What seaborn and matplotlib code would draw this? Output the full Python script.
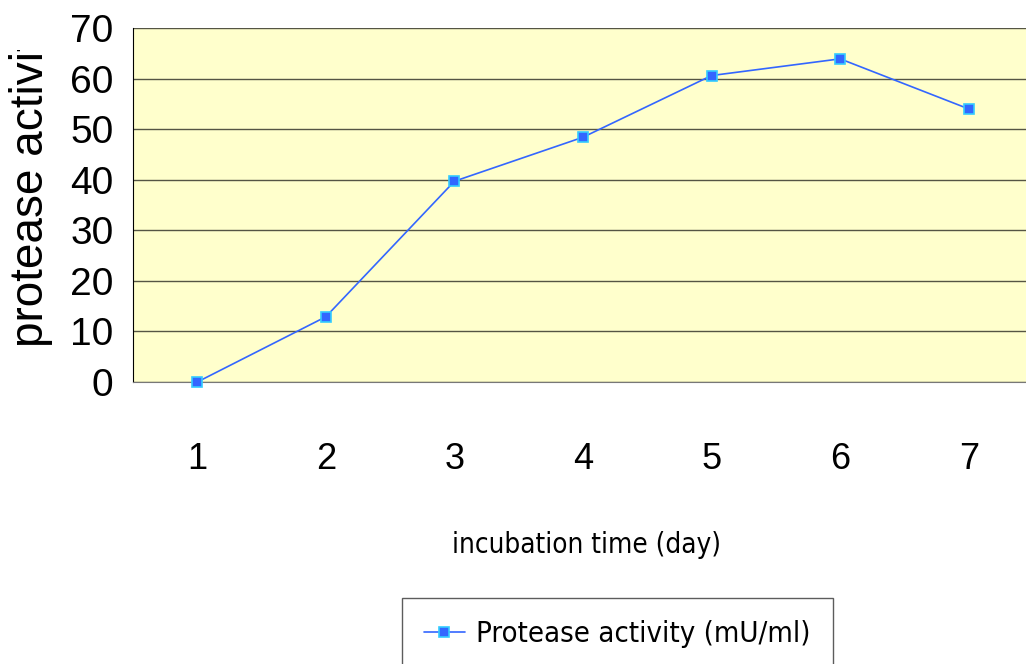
import pandas as pd
import matplotlib.pyplot as plt
import seaborn as sns
import numpy as np
from matplotlib.transforms import Bbox

# data
days = [1, 2, 3, 4, 5, 6, 7]
activity = [0, 12.9, 39.7, 48.4, 60.6, 63.9, 54.0]
y_ticks = [0, 10, 20, 30, 40, 50, 60, 70]

df = pd.DataFrame({'day': days, 'activity': activity})

sns.set_style('white')
plt.rcParams['font.family'] = ['Liberation Sans', 'DejaVu Sans']
plt.rcParams['text.color'] = 'black'
plt.rcParams['xtick.color'] = 'black'
plt.rcParams['ytick.color'] = 'black'

fig = plt.figure(figsize=(10.26, 6.64), dpi=100)
ax = fig.add_axes([133 / 1026, 1 - 382 / 664, 900 / 1026, 354 / 664])
ax.set_facecolor('#FFFFCC')

sns.lineplot(data=df, x='day', y='activity', ax=ax, color='#3366FF', linewidth=1.2,
             marker='s', markersize=7, markerfacecolor='#3366FF',
             markeredgecolor='#33CCFF', markeredgewidth=1.2,
             label='Protease activity (mU/ml)', clip_on=False, zorder=5)

ax.set_xlim(0.5, 7.5)
ax.set_ylim(0, 70)
ax.set_yticks(y_ticks)
ax.set_yticklabels([str(v) for v in y_ticks], fontsize=28)
ax.grid(axis='y', color='#555544', linewidth=1)
ax.set_axisbelow(True)

# categories: labels in the middle, tick marks on the boundaries
ax.set_xticks(days)
ax.set_xticklabels([str(d) for d in days], fontsize=26)
ax.set_xticks(np.arange(0.5, 8, 1), minor=True)
ax.tick_params(axis='x', which='major', length=0, pad=43)
ax.tick_params(axis='x', which='minor', length=12, width=1, color='#333333', direction='out')
ax.tick_params(axis='y', length=8, width=1, color='#555555', direction='out', pad=6)

for s in ['top', 'right']:
    ax.spines[s].set_visible(False)
ax.spines['left'].set_color('black')
ax.spines['bottom'].set_color('#777777')

ax.set_xlabel('')
ax.set_ylabel('')

fig.text(587 / 1026, 1 - 545 / 664, 'incubation time (day)', fontsize=20,
         family='DejaVu Sans', fontstretch='condensed', ha='center', va='center')

yl = fig.text(31 / 1026, 1 - 347 / 664, 'protease activity', fontsize=33,
              rotation=90, ha='center', va='bottom')
yl.set_clip_box(Bbox.from_extents(0, 0, 120, 664 - 50))
yl.set_clip_on(True)

leg = ax.legend(loc='upper left', bbox_to_anchor=(402 / 1026, 1 - 598 / 664),
                bbox_transform=fig.transFigure, frameon=True,
                prop={'family': 'DejaVu Sans', 'stretch': 'condensed', 'size': 21},
                fancybox=False, edgecolor='#333333', handlelength=1.4,
                borderpad=0.75, handletextpad=0.4, borderaxespad=0)
leg.get_frame().set_linewidth(1)

fig.savefig('out.png', dpi=100)
